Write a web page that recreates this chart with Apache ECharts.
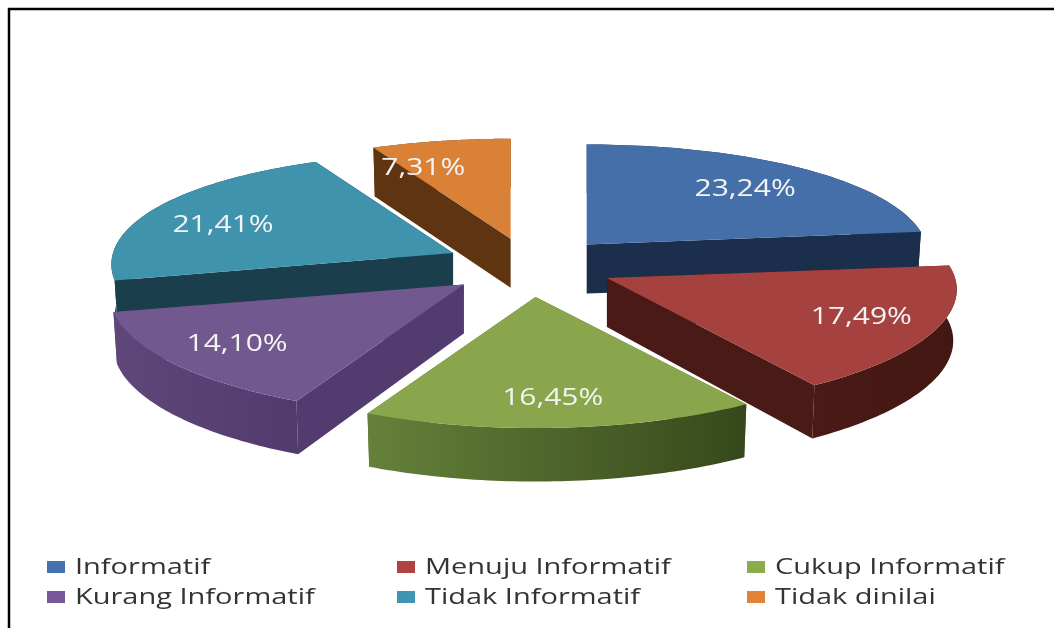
<!DOCTYPE html>
<html>
<head>
<meta charset="utf-8">
<style>
  html, body { margin: 0; padding: 0; background: #fff; }
  #main { width: 1054px; height: 628px; }
</style>
<script src="https://cdn.jsdelivr.net/npm/echarts@6/dist/echarts.min.js"></script>
</head>
<body>
<div id="main"></div>
<script>
const names = ['Informatif', 'Menuju Informatif', 'Cukup Informatif', 'Kurang Informatif', 'Tidak Informatif', 'Tidak dinilai'];
const values = [23.24, 17.49, 16.45, 14.10, 21.41, 7.31];

const topColors = ['#456fa8', '#a5423f', '#89a64c', '#71588f', '#3f93ad', '#da8138'];
const swatchColors = ['#4572ae', '#ae4340', '#8cab4c', '#75599a', '#3f96b2', '#e28236'];
const wallColors = ['#1b2f4d', '#4a1a16', '#4f6a2c', '#523b6e', '#1a3e4b', '#5f3410'];
// curved outer side, left to right
const sideColors = [
  ['#1b2f4d', '#1b2f4d'],
  ['#4a1a16', '#431712'],
  ['#65813a', '#36481b'],
  ['#5f4779', '#513b6c'],
  ['#1a3e4b', '#1a3e4b'],
  ['#5f3410', '#5f3410']
];
// back slices are painted first
const paintOrder = [5, 0, 4, 3, 1, 2];
const labelNudge = [[1, 3], [8, 0], [-2, 3], [-8, 1], [-9, 7], [-35, 3]];

const cx = 530, cy = 265;
const rx = 340, ry = 115.5;
const explodeX = 85, explodeY = 29.5;

const total = values.reduce((a, b) => a + b, 0);
const angles = [];
let sum = 0;
values.forEach(v => {
  angles.push([sum / total * Math.PI * 2, (sum + v) / total * Math.PI * 2]);
  sum += v;
});

// offset from the slice tip for a rim angle, front of the pie a bit larger
function rim(a, r, mid) {
  const c = Math.cos(a);
  const near = 1 + Math.min(1, Math.max(0, -1.4 * Math.cos(mid))) * 0.04;
  return [r * rx * near * Math.sin(a) * (1 - 0.1 * c), -r * ry * c * (1 - 0.135 * c)];
}
function depth(a) {
  return 51 - 2.5 * Math.cos(a);
}

function renderSlice(params, api) {
  const i = paintOrder[params.dataIndex];
  const [a0, a1] = angles[i];
  const mid = (a0 + a1) / 2;
  const tip = [
    cx + explodeX * Math.sin(mid),
    cy - explodeY * Math.cos(mid) * (1 - 0.085 * Math.cos(mid))
  ];
  const steps = 60;
  const upper = [], lower = [];
  for (let s = 0; s <= steps; s++) {
    const a = a0 + (a1 - a0) * s / steps;
    const o = rim(a, 1, mid);
    upper.push([tip[0] + o[0], tip[1] + o[1]]);
    // bottom edge leans in slightly
    lower.push([tip[0] + o[0] * 0.99, tip[1] + o[1] + depth(a)]);
  }
  const tipLow = [tip[0], tip[1] + 49];
  const wall = (p, q) => ({
    type: 'polygon',
    shape: { points: [tip, p, q, tipLow] },
    style: { fill: wallColors[i] }
  });
  const lab = rim(mid, 0.75, mid);
  const nudge = labelNudge[i];
  return {
    type: 'group',
    children: [
      wall(upper[0], lower[0]),
      wall(upper[steps], lower[steps]),
      {
        type: 'polygon',
        shape: { points: upper.concat(lower.slice().reverse()) },
        style: {
          fill: new echarts.graphic.LinearGradient(0, 0, 1, 0, [
            { offset: 0, color: sideColors[i][0] },
            { offset: 1, color: sideColors[i][1] }
          ])
        }
      },
      {
        type: 'polygon',
        shape: { points: [tip].concat(upper) },
        style: { fill: topColors[i] }
      },
      {
        type: 'text',
        x: tip[0] + lab[0] + nudge[0],
        y: tip[1] + lab[1] + nudge[1],
        scaleX: 1.25,
        style: {
          text: values[i].toFixed(2).replace('.', ',') + '%',
          font: '24px "Open Sans"',
          fill: '#f4f4f4',
          align: 'center',
          verticalAlign: 'middle'
        }
      }
    ]
  };
}

// legend is laid out by hand, the reference type is stretched sideways
const legendCols = [47, 397, 747];
const legendRows = [567, 597];
const legendItems = [];
names.forEach((name, i) => {
  const x = legendCols[i % 3], y = legendRows[Math.floor(i / 3)];
  legendItems.push({
    type: 'rect',
    shape: { x: x, y: y - 6, width: 18, height: 12 },
    style: { fill: swatchColors[i] }
  });
  legendItems.push({
    type: 'text',
    x: x + 28,
    y: y + 1,
    scaleX: 1.38,
    style: {
      text: name,
      font: '21px "Open Sans"',
      fill: '#333',
      align: 'left',
      verticalAlign: 'middle'
    }
  });
});

const chart = echarts.init(document.getElementById('main'));
chart.setOption({
  animation: false,
  backgroundColor: '#fff',
  graphic: [
    {
      type: 'polyline',
      shape: { points: [[9, 628], [9, 9], [1054, 9]] },
      style: { stroke: '#000', lineWidth: 2.5, fill: null }
    }
  ].concat(legendItems),
  series: [{
    type: 'custom',
    coordinateSystem: 'none',
    renderItem: renderSlice,
    data: paintOrder.map(i => values[i])
  }]
});
</script>
</body>
</html>
